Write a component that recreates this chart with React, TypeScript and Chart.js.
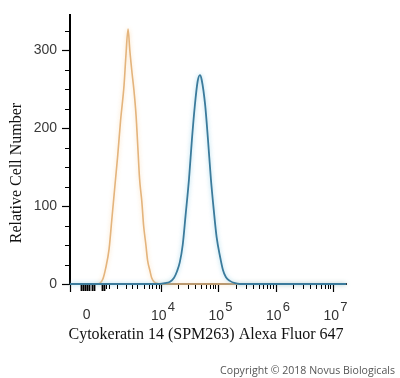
import React, { useEffect, useRef } from "react";
import { Chart, registerables } from "chart.js";

Chart.register(...registerables);

// x positions are display-scale units (one decade = 100 units, 10^4 at 400)
const blueX = [242, 398, 407, 416, 423, 428, 433, 438, 443, 449, 454, 459, 464, 468, 471, 477, 482, 487, 492, 497, 503, 508, 513, 520, 529, 537, 722];
const blueY = [0, 0, 1, 3, 8, 16, 28, 50, 88, 135, 185, 228, 260, 268, 262, 230, 185, 135, 95, 60, 35, 18, 9, 4, 1, 0, 0];

const orangeX = [287, 294, 299, 304, 310, 315, 320, 325, 330, 336, 339, 343, 346, 350, 353, 357, 360, 363, 367, 370, 374, 377, 381, 384, 388, 393, 398, 722];
const orangeY = [0, 1, 6, 20, 45, 85, 125, 165, 210, 255, 290, 327, 300, 270, 250, 215, 175, 135, 105, 75, 50, 30, 17, 8, 3, 1, 0, 0];

const xMin = 242;
const xMax = 722;
const yMin = 0;
const yMax = 345;

const xLabelPos = [271, 400, 500, 600, 700];
const xLabelBase = ["0", "10", "10", "10", "10"];
const xLabelExp = ["", "4", "5", "6", "7"];

const xMajorTicks = [242, 400, 500, 600, 700];
const xNearZeroTicks = [261, 264, 268, 271, 275, 280, 283, 297, 301, 304, 310, 323, 339, 350, 358, 370, 379, 384, 391, 397];
const xDecadeMinorTicks = [
  430, 448, 460, 470, 478, 485, 490, 495,
  530, 548, 560, 570, 578, 585, 590, 595,
  630, 648, 660, 670, 678, 685, 690, 695,
];

const xTitle = "Cytokeratin 14 (SPM263) Alexa Fluor 647";
const yTitle = "Relative Cell Number";
const copyright = "Copyright \u00A9 2018 Novus Biologicals";

const blueColor = "#3B7B9C";
const orangeColor = "#E4B47C";

const decorPlugin = {
  id: "decor",
  beforeDatasetDraw(chart: any, args: any) {
    const ctx = chart.ctx;
    ctx.save();
    ctx.shadowBlur = 4;
    ctx.shadowColor = args.index === 0 ? "rgba(140,205,230,0.8)" : "rgba(250,215,170,0.8)";
  },
  afterDatasetDraw(chart: any) {
    chart.ctx.restore();
  },
  afterDraw(chart: any) {
    const ctx = chart.ctx;
    const xs = chart.scales.x;
    const ys = chart.scales.y;
    const area = chart.chartArea;
    ctx.save();
    // x ticks
    ctx.strokeStyle = "#000";
    const bottom = area.bottom + 1;
    const drawTick = (v: number, len: number, w: number) => {
      const px = Math.round(xs.getPixelForValue(v)) + 0.5;
      ctx.lineWidth = w;
      ctx.beginPath();
      ctx.moveTo(px, bottom);
      ctx.lineTo(px, bottom + len);
      ctx.stroke();
    };
    xMajorTicks.forEach((v) => drawTick(v, 7, 1.2));
    xNearZeroTicks.forEach((v, i) => drawTick(v, i < 9 ? 6 : 4, i < 9 ? 1.8 : 1));
    xDecadeMinorTicks.forEach((v) => drawTick(v, 4, 1));

    // y minor ticks
    for (let v = 25; v <= 325; v += 25) {
      if (v % 100 === 0) continue;
      const py = Math.round(ys.getPixelForValue(v)) + 0.5;
      ctx.lineWidth = 1;
      ctx.beginPath();
      ctx.moveTo(area.left - 1, py);
      ctx.lineTo(area.left - 5, py);
      ctx.stroke();
    }

    // x labels
    ctx.fillStyle = "#333";
    ctx.textBaseline = "alphabetic";
    xLabelPos.forEach((v, i) => {
      const px = xs.getPixelForValue(v);
      ctx.font = '14px "Liberation Sans", Arial, sans-serif';
      ctx.textAlign = "center";
      if (!xLabelExp[i]) {
        ctx.fillText(xLabelBase[i], px, 319);
        return;
      }
      const w = ctx.measureText(xLabelBase[i]).width;
      const cx = px - 2;
      ctx.fillText(xLabelBase[i], cx, 320);
      ctx.font = '13px "Liberation Sans", Arial, sans-serif';
      ctx.textAlign = "left";
      ctx.fillText(xLabelExp[i], cx + w / 2 + 1, 311);
    });

    // titles
    ctx.fillStyle = "#111";
    ctx.font = '16px "Liberation Serif", "Times New Roman", serif';
    ctx.textAlign = "center";
    ctx.fillText(xTitle, 206, 339);
    ctx.save();
    ctx.translate(21, 173);
    ctx.rotate(-Math.PI / 2);
    ctx.fillText(yTitle, 0, 0);
    ctx.restore();

    // copyright
    ctx.fillStyle = "#555";
    ctx.font = '10px "Open Sans", "DejaVu Sans", sans-serif';
    const mw = ctx.measureText(copyright).width;
    const size = 10 * 175 / mw;
    ctx.font = `${size.toFixed(2)}px "Open Sans", "DejaVu Sans", sans-serif`;
    ctx.textAlign = "right";
    ctx.fillText(copyright, 395, 374);
    ctx.restore();
  },
};

export default function App() {
  const ref = useRef<HTMLCanvasElement | null>(null);
  useEffect(() => {
    if (!ref.current) return;
    const chart = new Chart(ref.current, {
      type: "line",
      data: {
        datasets: [
          {
            label: "Cytokeratin 14",
            data: blueX.map((x, i) => ({ x, y: blueY[i] })),
            borderColor: blueColor,
            borderWidth: 1.8,
            pointRadius: 0,
            cubicInterpolationMode: "monotone",
            fill: false,
            clip: false as any,
          },
          {
            label: "Control",
            data: orangeX.map((x, i) => ({ x, y: orangeY[i] })),
            borderColor: orangeColor,
            borderWidth: 1.6,
            pointRadius: 0,
            cubicInterpolationMode: "monotone",
            fill: false,
            clip: false as any,
          },
        ],
      },
      options: {
        animation: false,
        responsive: true,
        maintainAspectRatio: false,
        devicePixelRatio: 1,
        layout: { padding: { left: 0, right: 54, top: 15, bottom: 0 } },
        plugins: { legend: { display: false }, tooltip: { enabled: false } },
        scales: {
          x: {
            type: "linear",
            min: xMin,
            max: xMax,
            ticks: { display: false },
            grid: { display: false },
            border: { display: true, color: "#10202c", width: 2 },
            afterFit: (s: any) => {
              s.height = 94;
            },
          },
          y: {
            type: "linear",
            min: yMin,
            max: yMax,
            ticks: {
              stepSize: 25,
              includeBounds: false,
              padding: 5,
              color: "#3a3a3a",
              font: { family: '"Liberation Sans", Arial, sans-serif', size: 14 },
              callback: (v: any) => (Number(v) % 100 === 0 ? String(v) : ""),
            },
            grid: {
              display: true,
              drawOnChartArea: false,
              drawTicks: true,
              tickLength: 8,
              tickWidth: 1.2,
              tickColor: (c: any) => (c.tick && c.tick.value % 100 === 0 ? "#000" : "rgba(0,0,0,0)"),
            },
            border: { display: true, color: "#000", width: 2 },
            afterFit: (s: any) => {
              s.width = 70;
            },
          },
        },
      },
      plugins: [decorPlugin],
    });
    return () => chart.destroy();
  }, []);
  return (
    <div style={{ position: "absolute", left: 0, top: 0, width: 400, height: 378, background: "#fff" }}>
      <canvas ref={ref} />
    </div>
  );
}
